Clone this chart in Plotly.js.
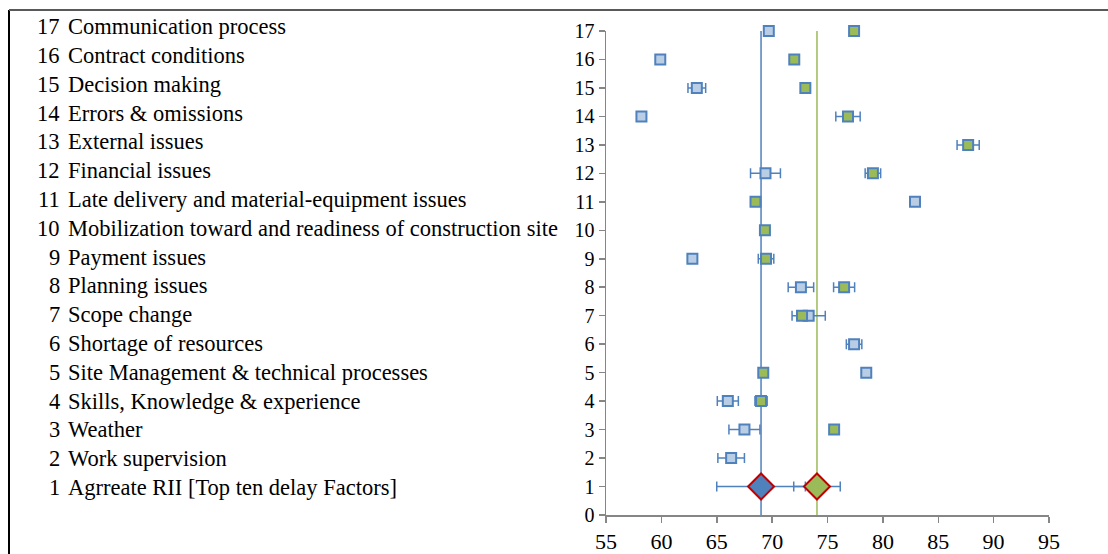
<!DOCTYPE html>
<html>
<head>
<meta charset="utf-8">
<script src="https://cdn.plot.ly/plotly-3.0.1.min.js"></script>
<style>html,body{margin:0;padding:0;background:#fff;}#chart{width:1108px;height:554px;}</style>
</head>
<body>
<div id="chart"></div>
<script>
// Factor labels (number + name), from top (17) to bottom (1)
const labelNums = [17, 16, 15, 14, 13, 12, 11, 10, 9, 8, 7, 6, 5, 4, 3, 2, 1];
const labelNames = [
  "Communication process",
  "Contract conditions",
  "Decision making",
  "Errors & omissions",
  "External issues",
  "Financial issues",
  "Late delivery and material-equipment issues",
  "Mobilization toward and readiness of construction site",
  "Payment issues",
  "Planning issues",
  "Scope change",
  "Shortage of resources",
  "Site Management & technical processes",
  "Skills, Knowledge & experience",
  "Weather",
  "Work supervision",
  "Agrreate RII [Top ten delay Factors]"
];

// Individual factors (rows 2..17)
const factorRows = [2, 3, 4, 5, 6, 7, 8, 9, 10, 11, 12, 13, 14, 15, 16, 17];
const blueRII  = [66.3, 67.5, 66.0, 78.5, 77.4, 73.3, 72.6, 62.8, null, 82.9, 69.4, null, 58.2, 63.2, 59.9, 69.7];
const blueErr  = [1.2, 1.4, 0.95, null, 0.7, 1.5, 1.15, null, null, null, 1.35, null, null, 0.8, null, null];
const greenRII = [null, 75.6, 69.0, 69.2, null, 72.7, 76.5, 69.45, 69.35, 68.5, 79.1, 87.7, 76.85, 73.0, 72.0, 77.4];
const greenErr = [null, null, 0.55, null, null, 0.45, 0.95, 0.7, null, null, 0.7, 1.0, 1.1, null, null, null];

// Aggregate (row 1)
const aggRow = [1];
const blueAgg = [69.0], blueAggErr = [4.0];
const greenAgg = [74.05], greenAggErr = [2.1];

// Mean reference lines
const lineY = [0, 17];
const blueMean = 69.0, greenMean = 74.05;

const xTicks = [55, 60, 65, 70, 75, 80, 85, 90, 95];
const yTicks = [0,1,2,3,4,5,6,7,8,9,10,11,12,13,14,15,16,17];

const BLUE = '#4F81BD', LBLUE = '#B9CDE5', GREEN = '#9BBB59', RED = '#C00000';
const FONT = 'Liberation Serif';

const errStyle = (arr) => ({type: 'data', array: arr, visible: true, color: BLUE, thickness: 1.5, width: 5});

const traces = [
  {x: [blueMean, blueMean], y: lineY, mode: 'lines', line: {color: BLUE, width: 1.5}, hoverinfo: 'skip', cliponaxis: false},
  {x: [greenMean, greenMean], y: lineY, mode: 'lines', line: {color: GREEN, width: 1.5}, hoverinfo: 'skip', cliponaxis: false},
  {x: blueRII, y: factorRows, mode: 'markers', error_x: errStyle(blueErr), cliponaxis: false,
   marker: {symbol: 'square', size: 10, color: LBLUE, line: {color: BLUE, width: 2}}},
  {x: greenRII, y: factorRows, mode: 'markers', error_x: errStyle(greenErr), cliponaxis: false,
   marker: {symbol: 'square', size: 10, color: GREEN, line: {color: BLUE, width: 2}}},
  {x: blueAgg, y: aggRow, mode: 'markers', error_x: errStyle(blueAggErr), cliponaxis: false,
   marker: {symbol: 'diamond', size: 20, color: BLUE, line: {color: RED, width: 2}}},
  {x: greenAgg, y: aggRow, mode: 'markers', error_x: errStyle(greenAggErr), cliponaxis: false,
   marker: {symbol: 'diamond', size: 20, color: GREEN, line: {color: RED, width: 2}}}
];

// plot area: x 606..1049, y 31..515
const L = 606, R = 1049, T = 31, B = 515;
const px = (p) => (p - L) / (R - L);
const py = (p) => (B - p) / (B - T);

const annotations = [];
labelNums.forEach((n, i) => {
  const row = n;
  const yp = py(487.5 - (row - 1) * 28.8);
  annotations.push({xref: 'paper', yref: 'paper', x: px(62), y: yp, xanchor: 'right', yanchor: 'middle',
    text: String(n), showarrow: false, font: {family: FONT, size: 22.5, color: '#000'}});
  annotations.push({xref: 'paper', yref: 'paper', x: px(66), y: yp, xanchor: 'left', yanchor: 'middle',
    text: labelNames[i], showarrow: false, font: {family: FONT, size: 22.5, color: '#000'}});
});

const layout = {
  width: 1108, height: 554,
  margin: {l: L, r: 1108 - R, t: T, b: 554 - B, pad: 0},
  paper_bgcolor: '#fff', plot_bgcolor: '#fff',
  showlegend: false,
  xaxis: {range: [55, 95], tickvals: xTicks, ticktext: xTicks.map(String), showgrid: false, zeroline: false,
    showline: true, linecolor: '#868686', linewidth: 1.5, ticks: 'outside', ticklen: 6, tickcolor: '#868686', tickwidth: 1.5,
    tickfont: {family: FONT, size: 22, color: '#000'}},
  yaxis: {range: [0, 17], tickvals: yTicks, ticktext: yTicks.map(String), showgrid: false, zeroline: false,
    showline: true, linecolor: '#868686', linewidth: 1.5, ticks: 'outside', ticklen: 6, tickcolor: '#868686', tickwidth: 1.5,
    tickfont: {family: FONT, size: 20, color: '#000'}},
  annotations: annotations,
  shapes: [
    {type: 'line', xref: 'paper', yref: 'paper', x0: px(9), x1: px(9), y0: py(10), y1: py(560), line: {color: '#000', width: 2}},
    {type: 'line', xref: 'paper', yref: 'paper', x0: px(9), x1: px(1110), y0: py(10), y1: py(10), line: {color: '#595959', width: 2}}
  ]
};

Plotly.newPlot('chart', traces, layout, {displayModeBar: false, staticPlot: true});
</script>
</body>
</html>
